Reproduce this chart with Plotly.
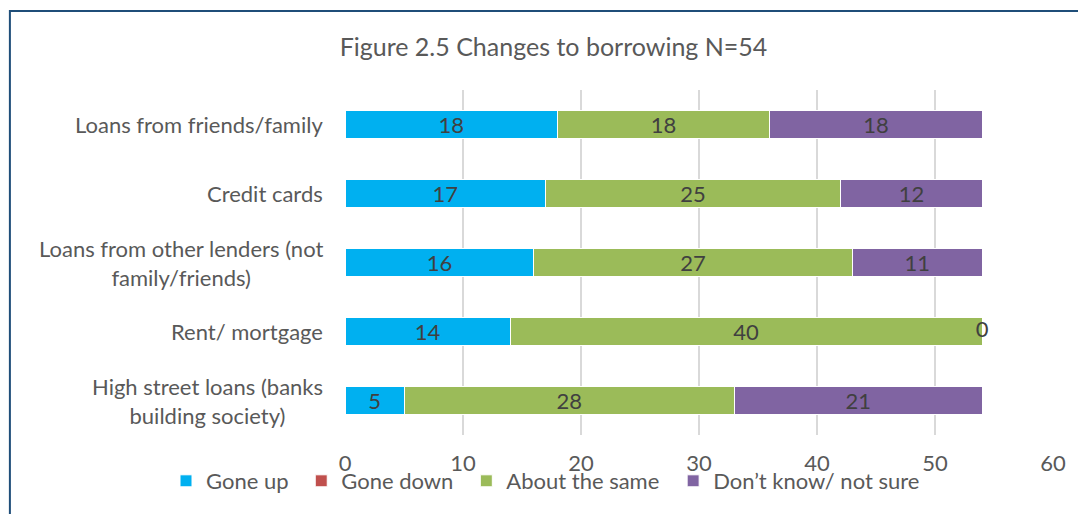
import plotly.graph_objects as go

# Survey responses: how borrowing changed, by type of borrowing
categories = [
    "Loans from friends/family",
    "Credit cards",
    "Loans from other lenders (not<br>family/friends)",
    "Rent/ mortgage",
    "High street loans (banks<br>building society)",
]
gone_up = [18, 17, 16, 14, 5]
gone_down = [0, 0, 0, 0, 0]
about_same = [18, 25, 27, 40, 28]
dont_know = [18, 12, 11, 0, 21]

series_names = ["Gone up", "Gone down", "About the same", "Don\u2019t know/ not sure"]
x_ticks = [0, 10, 20, 30, 40, 50, 60]

FONT = "Lato, Carlito, Calibri, sans-serif"
TEXT_GREY = "#595959"
LABEL_GREY = "#404040"
FS = 22

# plot area in pixels
W, H = 1078, 514
L, R, T, B = 345, 21, 90, 79
pw, ph = W - L - R, H - T - B

def px_to_paper_x(px):
    return (px - L) / pw

def px_to_paper_y(py):
    return (H - B - py) / ph

fig = go.Figure()

series = [
    (series_names[0], gone_up, "#00B0F0", True),
    (series_names[1], gone_down, "#C0504D", False),
    (series_names[2], about_same, "#9BBB59", True),
    (series_names[3], dont_know, "#8064A2", True),
]
legend_ids = ["legend", "legend2", "legend3", "legend4"]
legend_left_px = [165, 301, 467, 675]

ypos = list(range(len(categories)))

for (name, vals, color, labelled), lid in zip(series, legend_ids):
    fig.add_trace(go.Bar(
        name=name,
        y=ypos,
        x=vals,
        orientation="h",
        marker=dict(color=color, line=dict(color="white", width=1)),
        text=[str(v) if (labelled and v != 0) else "" for v in vals],
        textposition="inside",
        insidetextanchor="middle",
        textangle=0,
        constraintext="none",
        textfont=dict(family=FONT, size=FS, color=LABEL_GREY),
        hoverinfo="skip",
        legend=lid,
    ))

# zero-valued "don't know" label sits at the end of the stack
totals = [a + b + c + d for a, b, c, d in zip(gone_up, gone_down, about_same, dont_know)]
zero_y = [y for y, v in zip(ypos, dont_know) if v == 0]
zero_x = [t for t, v in zip(totals, dont_know) if v == 0]
fig.add_trace(go.Scatter(
    x=zero_x, y=zero_y, mode="text",
    text=["0"] * len(zero_x),
    textposition="middle center",
    textfont=dict(family=FONT, size=FS, color=LABEL_GREY),
    showlegend=False, hoverinfo="skip", cliponaxis=False,
))

# category labels, each line centred, block right-aligned to the axis
for y, cat in zip(ypos, categories):
    fig.add_annotation(
        x=0, xref="paper", xshift=-20, y=y, yref="y",
        text=cat, showarrow=False, xanchor="right", yanchor="middle",
        align="center", font=dict(family=FONT, size=FS, color=TEXT_GREY),
    )

# outer frame
fig.add_shape(
    type="rect", xref="paper", yref="paper",
    x0=px_to_paper_x(8), x1=px_to_paper_x(1090),
    y0=px_to_paper_y(530), y1=px_to_paper_y(11),
    line=dict(color="#1F4E79", width=2), layer="below",
)

legend_style = dict(
    orientation="h", xanchor="left",
    y=px_to_paper_y(481), yanchor="middle",
    font=dict(family=FONT, size=FS, color=TEXT_GREY),
    bgcolor="rgba(0,0,0,0)",
    itemclick=False, itemdoubleclick=False,
)
legends = {
    lid: dict(legend_style, x=px_to_paper_x(px))
    for lid, px in zip(legend_ids, legend_left_px)
}

fig.update_layout(
    width=W, height=H,
    margin=dict(l=L, r=R, t=T, b=B, pad=0),
    barmode="stack",
    bargap=0.6,
    paper_bgcolor="white",
    plot_bgcolor="white",
    title=dict(
        text="Figure 2.5 Changes to borrowing N=54",
        x=553.5 / W, xanchor="center", xref="container",
        y=1 - 47 / H, yanchor="middle",
        font=dict(family=FONT, size=25, color=TEXT_GREY),
    ),
    xaxis=dict(
        range=[0, 60], tickvals=x_ticks, ticktext=[str(t) for t in x_ticks],
        showgrid=True, gridcolor="#D9D9D9", gridwidth=2,
        zeroline=False, showline=False, ticks="",
        ticklabelstandoff=13,
        tickfont=dict(family=FONT, size=FS, color=TEXT_GREY),
        fixedrange=True,
    ),
    yaxis=dict(
        range=[len(categories) - 0.5, -0.5],
        showticklabels=False, showgrid=False, zeroline=False, showline=False,
        ticks="", fixedrange=True,
    ),
    showlegend=True,
    **legends,
)

fig.write_html("out.html")
